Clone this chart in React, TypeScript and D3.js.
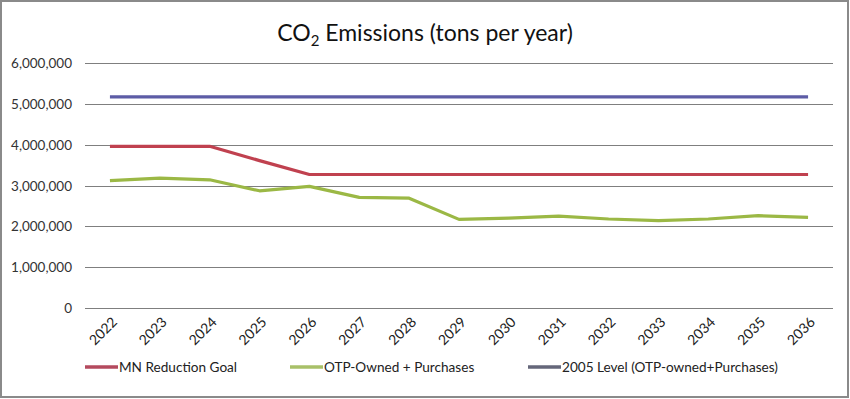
import React, { useEffect, useRef } from "react";
import * as d3 from "d3";

// chart data
const years = [
  "2022", "2023", "2024", "2025", "2026", "2027", "2028", "2029",
  "2030", "2031", "2032", "2033", "2034", "2035", "2036",
];
const mnGoal = [
  3960000, 3960000, 3960000, 3610000, 3270000, 3270000, 3270000, 3270000,
  3270000, 3270000, 3270000, 3270000, 3270000, 3270000, 3270000,
];
const otpOwned = [
  3120000, 3180000, 3140000, 2870000, 2980000, 2710000, 2690000, 2170000,
  2200000, 2250000, 2180000, 2140000, 2180000, 2260000, 2220000,
];
const level2005 = [
  5170000, 5170000, 5170000, 5170000, 5170000, 5170000, 5170000, 5170000,
  5170000, 5170000, 5170000, 5170000, 5170000, 5170000, 5170000,
];
const yTicks = [0, 1000000, 2000000, 3000000, 4000000, 5000000, 6000000];

const seriesList = [
  { name: "MN Reduction Goal", values: mnGoal, color: "#c0414f", swatch: "#b44a5e" },
  { name: "OTP-Owned + Purchases", values: otpOwned, color: "#9bb845", swatch: "#a8c068" },
  { name: "2005 Level (OTP-owned+Purchases)", values: level2005, color: "#5d5ca6", swatch: "#65677a" },
];

const W = 850;
const H = 399;
const FONT = "Lato, 'Open Sans', sans-serif";

const App = () => {
  const ref = useRef<SVGSVGElement>(null);

  useEffect(() => {
    const svg = d3.select(ref.current);
    svg.selectAll("*").remove();

    const margin = { top: 63, right: 17, bottom: 91, left: 85 };

    const x = d3
      .scaleBand()
      .domain(years)
      .range([margin.left, W - margin.right]);

    const y = d3
      .scaleLinear()
      .domain([0, 6000000])
      .range([H - margin.bottom, margin.top]);

    // outer border
    svg
      .append("rect")
      .attr("x", 1)
      .attr("y", 1)
      .attr("width", W - 3)
      .attr("height", H - 3)
      .attr("fill", "#fff")
      .attr("stroke", "#8a8a8a")
      .attr("stroke-width", 2);

    // title
    const title = svg
      .append("text")
      .attr("x", 425)
      .attr("y", 41)
      .attr("text-anchor", "middle")
      .attr("font-family", FONT)
      .attr("font-size", 23)
      .attr("fill", "#111");
    title.append("tspan").text("CO");
    title.append("tspan").attr("font-size", 15).attr("dy", 5).text("2");
    title.append("tspan").attr("dy", -5).text(" Emissions (tons per year)");

    // gridlines
    svg
      .append("g")
      .selectAll("line")
      .data(yTicks)
      .enter()
      .append("line")
      .attr("x1", margin.left)
      .attr("x2", W - margin.right)
      .attr("y1", (d) => Math.round(y(d)) + 0.5)
      .attr("y2", (d) => Math.round(y(d)) + 0.5)
      .attr("stroke", "#7f7f7f")
      .attr("stroke-width", 1.2);

    // y axis labels
    const fmt = d3.format(",");
    svg
      .append("g")
      .selectAll("text")
      .data(yTicks)
      .enter()
      .append("text")
      .attr("x", 72)
      .attr("y", (d) => y(d) + 5)
      .attr("text-anchor", "end")
      .attr("font-family", FONT)
      .attr("font-size", 13.5)
      .attr("fill", "#333")
      .text((d) => fmt(d));

    // x axis labels, rotated
    svg
      .append("g")
      .selectAll("text")
      .data(years)
      .enter()
      .append("text")
      .attr("font-family", FONT)
      .attr("font-size", 14)
      .attr("fill", "#222")
      .attr("text-anchor", "end")
      .attr("transform", (d) => {
        const cx = (x(d) as number) + x.bandwidth() / 2 + 8;
        return `translate(${cx},${H - margin.bottom + 15}) rotate(-45)`;
      })
      .text((d) => d);

    // lines
    const line = d3
      .line<number>()
      .x((d, i) => (x(years[i]) as number) + x.bandwidth() / 2)
      .y((d) => y(d));

    const drawOrder = [seriesList[2], seriesList[0], seriesList[1]];
    svg
      .append("g")
      .selectAll("path")
      .data(drawOrder)
      .enter()
      .append("path")
      .attr("d", (d) => line(d.values))
      .attr("fill", "none")
      .attr("stroke", (d) => d.color)
      .attr("stroke-width", 3.2)
      .attr("stroke-linejoin", "round");

    // legend
    const legendX = [85, 290, 528];
    const legend = svg
      .append("g")
      .selectAll("g")
      .data(seriesList)
      .enter()
      .append("g")
      .attr("transform", (d, i) => `translate(${legendX[i]},367)`);

    legend
      .append("line")
      .attr("x1", 0)
      .attr("x2", 33)
      .attr("stroke", (d) => d.swatch)
      .attr("stroke-width", 3.5);

    legend
      .append("text")
      .attr("x", 34)
      .attr("y", 5)
      .attr("font-family", FONT)
      .attr("font-size", 13.6)
      .attr("fill", "#222")
      .text((d) => d.name);
  }, []);

  return (
    <svg
      ref={ref}
      width={W}
      height={H}
      style={{ position: "absolute", left: 0, top: 0 }}
    />
  );
};

export default App;
